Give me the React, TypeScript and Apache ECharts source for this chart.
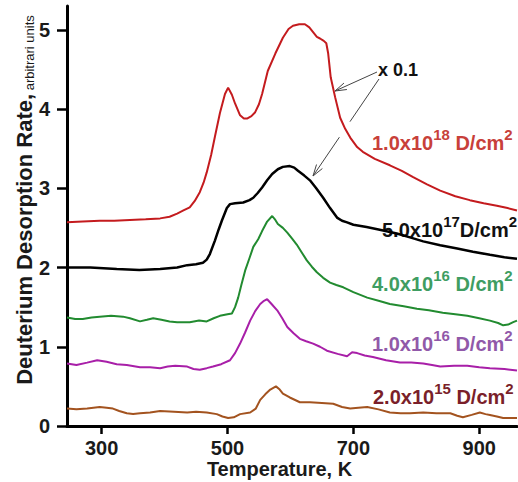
import React, { useEffect, useRef } from "react";
import * as echarts from "echarts";

// Temperature (K), desorption rate (arb. units)
const red1e18: [number, number][] = [
  [245, 2.57], [270, 2.58], [297, 2.59], [320, 2.59], [345, 2.6], [370, 2.61], [393, 2.62], [408, 2.64],
  [420, 2.68], [430, 2.72], [440, 2.76], [448, 2.84], [456, 2.95], [462, 3.07], [467, 3.2], [474, 3.42],
  [480, 3.65], [488, 3.95], [496, 4.19], [501, 4.27], [507, 4.18], [512, 4.07], [520, 3.92], [526, 3.88],
  [531, 3.88], [538, 3.91], [544, 3.96], [550, 4.06], [555, 4.19], [564, 4.48], [576, 4.7], [588, 4.9],
  [597, 5.01], [604, 5.05], [614, 5.07], [623, 5.07], [630, 5.03], [636, 4.97], [642, 4.91], [647, 4.89],
  [653, 4.86], [657, 4.83], [660, 4.7], [664, 4.4], [671, 4.15], [679, 3.89], [687, 3.75], [695, 3.64],
  [706, 3.52], [715, 3.46], [734, 3.37], [758, 3.29], [777, 3.22], [795, 3.14], [817, 3.05], [838, 2.97],
  [862, 2.9], [885, 2.85], [907, 2.81], [928, 2.78], [945, 2.75], [960, 2.72],
];
const black5e17: [number, number][] = [
  [245, 2.0], [282, 2.0], [324, 1.98], [360, 1.97], [393, 1.98], [420, 2.0], [436, 2.03], [450, 2.04],
  [461, 2.06], [467, 2.1], [472, 2.17], [480, 2.34], [486, 2.48], [491, 2.59], [499, 2.75], [504, 2.8],
  [512, 2.81], [525, 2.82], [535, 2.85], [541, 2.88], [548, 2.94], [555, 3.01], [563, 3.1], [571, 3.18],
  [580, 3.24], [588, 3.27], [599, 3.28], [606, 3.26], [612, 3.22], [622, 3.16], [631, 3.1], [641, 3.0],
  [652, 2.88], [663, 2.75], [674, 2.63], [682, 2.59], [690, 2.57], [700, 2.54], [721, 2.51], [740, 2.48],
  [769, 2.43], [790, 2.38], [811, 2.33], [838, 2.28], [865, 2.24], [890, 2.2], [917, 2.16], [940, 2.13],
  [960, 2.11],
];
const green4e16: [number, number][] = [
  [245, 1.37], [258, 1.35], [270, 1.35], [284, 1.37], [297, 1.38], [315, 1.39], [334, 1.38], [345, 1.36],
  [361, 1.32], [372, 1.34], [382, 1.36], [395, 1.34], [408, 1.32], [420, 1.31], [440, 1.31], [455, 1.33],
  [467, 1.32], [478, 1.36], [488, 1.39], [500, 1.41], [507, 1.42], [512, 1.5], [517, 1.62], [522, 1.78],
  [528, 1.96], [535, 2.12], [541, 2.26], [549, 2.36], [555, 2.46], [563, 2.58], [571, 2.65], [576, 2.6],
  [580, 2.55], [588, 2.5], [595, 2.44], [603, 2.36], [610, 2.29], [618, 2.19], [626, 2.09], [634, 2.01],
  [642, 1.94], [652, 1.87], [663, 1.81], [673, 1.78], [684, 1.75], [700, 1.69], [722, 1.62], [740, 1.58],
  [758, 1.54], [780, 1.51], [801, 1.48], [820, 1.46], [842, 1.43], [862, 1.41], [881, 1.39], [900, 1.36],
  [917, 1.33], [930, 1.3], [938, 1.27], [946, 1.28], [954, 1.31], [960, 1.33],
];
const purple1e16: [number, number][] = [
  [245, 0.79], [260, 0.77], [277, 0.8], [293, 0.83], [308, 0.81], [324, 0.78], [340, 0.77], [361, 0.74],
  [377, 0.74], [393, 0.73], [405, 0.75], [417, 0.76], [436, 0.75], [446, 0.72], [456, 0.71], [467, 0.73],
  [477, 0.75], [490, 0.78], [504, 0.83], [512, 0.92], [520, 1.04], [528, 1.18], [536, 1.33], [544, 1.45],
  [552, 1.54], [558, 1.58], [563, 1.6], [570, 1.54], [579, 1.46], [587, 1.36], [595, 1.25], [605, 1.17],
  [615, 1.1], [625, 1.07], [636, 1.04], [647, 1.0], [658, 0.95], [675, 0.91], [690, 0.88], [698, 0.93],
  [706, 0.92], [718, 0.89], [731, 0.87], [752, 0.83], [774, 0.8], [792, 0.8], [811, 0.79], [825, 0.77],
  [838, 0.75], [860, 0.76], [881, 0.76], [900, 0.74], [917, 0.73], [940, 0.72], [960, 0.7],
];
const brown2e15: [number, number][] = [
  [245, 0.22], [260, 0.21], [277, 0.22], [297, 0.24], [308, 0.23], [318, 0.22], [328, 0.19], [340, 0.16],
  [350, 0.15], [361, 0.16], [377, 0.17], [393, 0.19], [415, 0.18], [436, 0.17], [450, 0.18], [467, 0.17],
  [483, 0.15], [492, 0.12], [501, 0.1], [510, 0.11], [520, 0.15], [536, 0.17], [545, 0.22], [552, 0.33],
  [560, 0.4], [568, 0.46], [577, 0.5], [583, 0.46], [588, 0.41], [599, 0.36], [615, 0.3], [631, 0.3],
  [650, 0.29], [668, 0.28], [682, 0.24], [695, 0.22], [708, 0.23], [722, 0.24], [740, 0.21], [758, 0.17],
  [775, 0.16], [790, 0.16], [811, 0.17], [832, 0.16], [854, 0.16], [865, 0.13], [874, 0.11], [888, 0.14],
  [901, 0.17], [910, 0.15], [917, 0.14], [928, 0.12], [938, 0.1], [960, 0.1],
];

const xTicks = [300, 500, 700, 900];
const yTicks = [0, 1, 2, 3, 4, 5];

const seriesNames = ["1.0x10^18", "5.0x10^17", "4.0x10^16", "1.0x10^16", "2.0x10^15"];
const labelMantissas = ["1.0x10", "5.0x10", "4.0x10", "1.0x10", "2.0x10"];
const labelExponents = ["18", "17", "16", "16", "15"];

const FONT = '"Liberation Sans", Arial, Helvetica, sans-serif';

export default function App() {
  const ref = useRef<HTMLDivElement>(null);
  useEffect(() => {
    if (!ref.current) return;
    const chart = echarts.init(ref.current, undefined, { renderer: "svg" });

    const lineColors = ["#c41b1e", "#000000", "#228b30", "#a81fa8", "#a3531f"];
    const labelColors = ["#c8403a", "#111111", "#3f9d62", "#9159a9", "#7a1f2a"];
    const datasets = [red1e18, black5e17, green4e16, purple1e16, brown2e15];
    const widths = [2, 2.5, 2, 2, 2];

    // label placements (left x, line-center y, space before D/cm)
    const labelPos: [number, number, boolean][] = [
      [372, 139.5, true],
      [382, 226.5, false],
      [372, 280.5, true],
      [372, 340.5, true],
      [373, 393.5, true],
    ];

    const rich = (color: string) => ({
      m: { fontSize: 20, fontWeight: "bold", fontFamily: FONT, fill: color, lineHeight: 26, verticalAlign: "bottom" },
      s: { fontSize: 15, fontWeight: "bold", fontFamily: FONT, fill: color, lineHeight: 13, verticalAlign: "top" },
    });

    const seriesLabels = labelMantissas.map((m, i) => ({
      type: "text",
      x: labelPos[i][0],
      y: labelPos[i][1],
      silent: true,
      style: {
        text: `{m|${m}}{s|${labelExponents[i]}}{m|${labelPos[i][2] ? " " : ""}D/cm}{s|2}`,
        rich: rich(labelColors[i]),
        align: "left",
        verticalAlign: "middle",
      },
    }));

    const arrowHead = (x1: number, y1: number, x2: number, y2: number) => {
      const ang = Math.atan2(y2 - y1, x2 - x1);
      const L = 12;
      const a = 0.3;
      return {
        type: "polyline",
        silent: true,
        shape: {
          points: [
            [x2 - L * Math.cos(ang - a), y2 - L * Math.sin(ang - a)],
            [x2, y2],
            [x2 - L * Math.cos(ang + a), y2 - L * Math.sin(ang + a)],
          ],
        },
        style: { stroke: "#444", lineWidth: 1, fill: "none" },
      };
    };

    const a1 = [377, 72, 335, 91];
    const a2 = [379, 79, 313, 176];
    const lerp = (t: number) => [a2[0] + (a2[2] - a2[0]) * t, a2[1] + (a2[3] - a2[1]) * t];
    const g1 = lerp(0.44);
    const g2 = lerp(0.6);

    chart.setOption({
      animation: false,
      grid: { left: 67, right: 1, top: 6, bottom: 56, containLabel: false },
      xAxis: {
        type: "value",
        min: 245,
        max: 960,
        axisLine: { show: true, onZero: false, lineStyle: { color: "#000", width: 3 } },
        axisTick: { show: true, length: 8, customValues: xTicks, lineStyle: { color: "#000", width: 2.5 } },
        axisLabel: {
          customValues: xTicks,
          margin: 14,
          fontSize: 20,
          lineHeight: 16,
          fontWeight: "bold",
          fontFamily: FONT,
          color: "#1a1a1a",
        },
        splitLine: { show: false },
      },
      yAxis: {
        type: "value",
        min: 0,
        max: 5.3,
        axisLine: { show: true, lineStyle: { color: "#000", width: 3 } },
        axisTick: { show: true, length: 10, customValues: yTicks, lineStyle: { color: "#000", width: 2.5 } },
        axisLabel: {
          customValues: yTicks,
          margin: 17,
          fontSize: 20,
          fontWeight: "bold",
          fontFamily: FONT,
          color: "#1a1a1a",
        },
        splitLine: { show: false },
      },
      series: datasets.map((d, i) => ({
        name: seriesNames[i],
        type: "line",
        data: d,
        symbol: "none",
        showSymbol: false,
        lineStyle: { color: lineColors[i], width: widths[i] },
        z: 2 + (4 - i),
      })),
      graphic: [
        {
          type: "text",
          x: 279.5,
          y: 469,
          silent: true,
          style: {
            text: "Temperature, K",
            fontSize: 20,
            lineHeight: 17,
            fontWeight: "bold",
            fontFamily: FONT,
            fill: "#1a1a1a",
            align: "center",
            verticalAlign: "middle",
          },
        },
        {
          type: "text",
          x: 22.5,
          y: 200,
          rotation: Math.PI / 2,
          silent: true,
          style: {
            text: "{b|Deuterium Desorption Rate,}{n| arbitrari units}",
            rich: {
              b: { fontSize: 22, fontWeight: "bold", fontFamily: FONT, fill: "#1a1a1a", lineHeight: 26, verticalAlign: "bottom" },
              n: { fontSize: 13, fontWeight: "normal", fontFamily: FONT, fill: "#1a1a1a", lineHeight: 20, verticalAlign: "bottom" },
            },
            align: "center",
            verticalAlign: "middle",
          },
        },
        {
          type: "text",
          x: 378,
          y: 70,
          silent: true,
          style: {
            text: "x 0.1",
            fontSize: 18,
            fontWeight: "bold",
            fontFamily: FONT,
            fill: "#111",
            align: "left",
            verticalAlign: "middle",
          },
        },
        {
          type: "line",
          silent: true,
          shape: { x1: a1[0], y1: a1[1], x2: a1[2], y2: a1[3] },
          style: { stroke: "#444", lineWidth: 1 },
        },
        arrowHead(a1[0], a1[1], a1[2], a1[3]),
        {
          type: "line",
          silent: true,
          shape: { x1: a2[0], y1: a2[1], x2: g1[0], y2: g1[1] },
          style: { stroke: "#444", lineWidth: 1 },
        },
        {
          type: "line",
          silent: true,
          shape: { x1: g2[0], y1: g2[1], x2: a2[2], y2: a2[3] },
          style: { stroke: "#444", lineWidth: 1 },
        },
        arrowHead(a2[0], a2[1], a2[2], a2[3]),
        ...seriesLabels,
      ],
    });
    return () => chart.dispose();
  }, []);
  return (
    <div
      ref={ref}
      style={{ position: "fixed", left: 0, top: 0, width: 518, height: 482, background: "#fff" }}
    />
  );
}
